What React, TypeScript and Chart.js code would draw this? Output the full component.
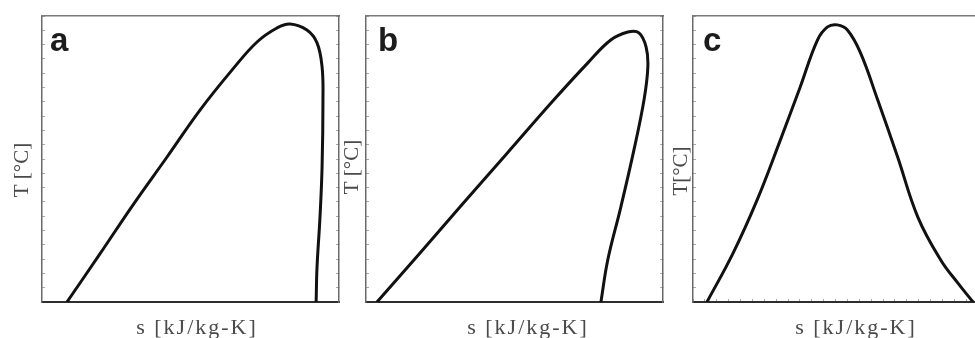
import React, { useEffect, useRef } from "react";
import { Chart, registerables } from "chart.js";

Chart.register(...registerables);

// Axes are unlabelled: s and T are given in percent of each panel's range.
const sA = [8.4, 19.5, 30.6, 42.1, 53.2, 64.3, 72.4, 79.1, 83.5, 89.2, 92.6, 94.3, 94.6, 94.3, 93.6, 92.6, 92.3];
const tA = [0, 16.8, 33.9, 50.7, 67.1, 81.5, 90.9, 95.8, 97.2, 95.1, 90.6, 82.2, 70.6, 47.2, 29.7, 12.2, 0];

const sB = [3.7, 18.2, 32.8, 47.6, 63.2, 74.7, 82.4, 88.2, 91.9, 94.3, 94.9, 93.6, 90.2, 85.8, 81.4, 79.1];
const tB = [0, 17.1, 34.6, 52.1, 70.6, 83.6, 91.6, 94.4, 94.1, 89.2, 82.2, 70.6, 53.1, 33.2, 14.7, 0];

const sC = [4.7, 13.5, 21.6, 29.4, 36.1, 41.9, 45.3, 48.6, 52.0, 56.4, 62.2, 68.9, 75.7, 83.4, 89.2, 94.3];
const tC = [0, 17.1, 35.7, 56.6, 75.2, 91.6, 96.2, 96.9, 95.1, 87.1, 70.6, 50.7, 29.7, 14.7, 6.6, 0];

const panelLetters = ["a", "b", "c"];
const xLabels = ["s [kJ/kg-K]", "s [kJ/kg-K]", "s [kJ/kg-K]"];
const yLabels = ["T [\u00B0C]", "T [\u00B0C]", "T[\u00B0C]"];

// Draws the panel letter and both axis captions around the plot box.
const panelText = {
  id: "panelText",
  afterDraw(chart: any, _args: any, opts: any) {
    const { ctx, chartArea } = chart;
    ctx.save();
    ctx.fillStyle = "#1c1c1c";
    ctx.font = "bold 33px 'Liberation Sans', Arial, sans-serif";
    ctx.textAlign = "left";
    ctx.textBaseline = "alphabetic";
    ctx.fillText(opts.letter, chartArea.left + opts.letterDx, chartArea.top + 35);

    ctx.fillStyle = "#4a4a4a";
    ctx.font = "22px 'Liberation Serif', 'Times New Roman', serif";
    ctx.textAlign = "center";
    ctx.textBaseline = "middle";
    (ctx as any).letterSpacing = "2px";
    ctx.fillText(opts.xLabel, chartArea.left + opts.xLabelDx, chartArea.bottom + 26);
    (ctx as any).letterSpacing = "0px";

    ctx.font = "21px 'Liberation Serif', 'Times New Roman', serif";
    ctx.translate(chartArea.left - opts.yLabelDx, opts.yLabelY);
    ctx.rotate(-Math.PI / 2);
    ctx.fillText(opts.yLabel, 0, 0);
    ctx.restore();
  },
};

type PanelProps = {
  s: number[];
  t: number[];
  index: number;
  left: number;
  width: number;
  padLeft: number;
  letterDx: number;
  xLabelDx: number;
  yLabelDx: number;
  yLabelY: number;
  bottomTicks: boolean;
};

function Panel(p: PanelProps) {
  const ref = useRef<HTMLCanvasElement | null>(null);

  useEffect(() => {
    if (!ref.current) return;
    const edge = (axis: "x" | "y", position: string, borderColor: string, borderWidth: number, ticks: boolean, step: number) => ({
      type: "linear",
      axis,
      position,
      min: 0,
      max: 100,
      ticks: { display: false, stepSize: step },
      grid: {
        display: ticks,
        drawOnChartArea: false,
        drawTicks: true,
        tickLength: -3,
        color: "#a8a8a8",
        lineWidth: 1,
      },
      border: { display: true, color: borderColor, width: borderWidth },
      afterFit: (scale: any) => {
        if (axis === "x") scale.height = 0;
        else scale.width = 0;
      },
    });

    const chart = new Chart(ref.current, {
      type: "scatter",
      data: {
        datasets: [
          {
            data: p.s.map((x, i) => ({ x, y: p.t[i] })),
            showLine: true,
            borderColor: "#111",
            borderWidth: 3,
            pointRadius: 0,
            tension: 0.4,
            fill: false,
          },
        ],
      },
      options: {
        animation: false,
        responsive: false,
        events: [],
        layout: { padding: { left: p.padLeft, right: p.width - p.padLeft - 297, top: 16, bottom: 36 } },
        plugins: {
          legend: { display: false },
          tooltip: { enabled: false },
          panelText: {
            letter: panelLetters[p.index],
            letterDx: p.letterDx,
            xLabel: xLabels[p.index],
            xLabelDx: p.xLabelDx,
            yLabel: yLabels[p.index],
            yLabelDx: p.yLabelDx,
            yLabelY: p.yLabelY,
          },
        } as any,
        scales: {
          x: edge("x", "bottom", "#2e2e2e", 2, p.bottomTicks, 4),
          y: edge("y", "left", "#6a6a6a", 1.5, true, 5),
          x2: edge("x", "top", "#7a7a7a", 1.5, false, 4),
          y2: edge("y", "right", "#6a6a6a", 1.5, true, 5),
        } as any,
      },
      plugins: [panelText],
    });
    return () => chart.destroy();
  }, []);

  return (
    <canvas
      ref={ref}
      width={p.width}
      height={338}
      style={{ position: "absolute", left: p.left, top: 0, width: p.width, height: 338 }}
    />
  );
}

export default function App() {
  return (
    <div
      style={{
        position: "absolute",
        left: 0,
        top: 0,
        width: 975,
        height: 338,
        overflow: "hidden",
        background: "#fff",
      }}
    >
      <Panel s={sA} t={tA} index={0} left={0} width={346} padLeft={42} letterDx={8} xLabelDx={155} yLabelDx={20} yLabelY={170} bottomTicks={false} />
      <Panel s={sB} t={tB} index={1} left={340} width={328} padLeft={26} letterDx={12} xLabelDx={162} yLabelDx={14} yLabelY={167} bottomTicks={false} />
      <Panel s={sC} t={tC} index={2} left={668} width={327} padLeft={25} letterDx={10} xLabelDx={163} yLabelDx={12} yLabelY={171} bottomTicks={true} />
    </div>
  );
}
